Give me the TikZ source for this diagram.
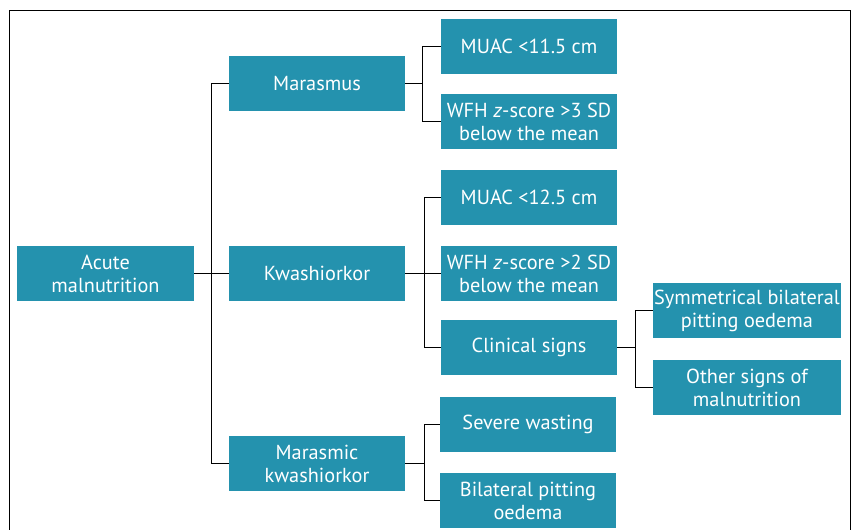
\documentclass[tikz,border=0pt]{standalone}
\usepackage{fontspec}
\setmainfont{PT Sans}
\definecolor{boxteal}{HTML}{2492AE}

\def\unit{1pt}

\begin{document}
\begin{tikzpicture}[x=\unit, y=-\unit,
    box/.style={fill=boxteal, text=white, align=center, inner sep=0pt,
      minimum width=176, minimum height=55, font=\fontsize{20.3}{23}\selectfont},
    widebox/.style={box, minimum width=188},
    link/.style={draw=black, line width=1.2pt}]
      \clip (0,0) rectangle (854,530);
      \useasboundingbox (0,0) rectangle (854,530);
      % outer frame, open at the bottom
      \draw[line width=0.8pt] (9,540) -- (9,10) -- (850,10) -- (850,540);

      \node[box, minimum width=177] (acute) at (105.5, 273.5) {Acute\\malnutrition};

      \node[box] (marasmus) at (317, 83.5) {Marasmus};
      \node[box] (kwash) at (317, 273.5) {Kwashiorkor};
      \node[box] (mkwash) at (317, 463.5) {Marasmic\\kwashiorkor};

      \node[box] (muacA) at (529, 46.5) {MUAC <11.5 cm};
      \node[box] (wfhA) at (529, 121.5) {WFH \textit{z}-score >3 SD\\below the mean};
      \node[box] (muacB) at (529, 197.5) {MUAC <12.5 cm};
      \node[box] (wfhB) at (529, 273.5) {WFH \textit{z}-score >2 SD\\below the mean};
      \node[box] (clinical) at (529, 347.5) {Clinical signs};
      \node[box] (wasting) at (528, 424.5) {Severe wasting};
      \node[box] (oedema) at (528, 500.5) {Bilateral pitting\\oedema};

      \node[widebox] (symm) at (747, 310.5) {Symmetrical bilateral\\pitting oedema};
      \node[widebox] (other) at (747, 387.5) {Other signs of\\malnutrition};

      % tree links
      \draw[link] (acute.east) -- ++(17,0) coordinate (busA);
      \draw[link] (busA) |- (marasmus.west);
      \draw[link] (busA) -- (kwash.west);
      \draw[link] (busA) |- (mkwash.west);

      \draw[link] (marasmus.east) -- ++(17,0) coordinate (busB);
      \draw[link] (busB) |- (muacA.west);
      \draw[link] (busB) |- (wfhA.west);

      \draw[link] (kwash.east) -- ++(19,0) coordinate (busC);
      \draw[link] (busC) |- (muacB.west);
      \draw[link] (busC) -- (wfhB.west);
      \draw[link] (busC) |- (clinical.west);

      \draw[link] (mkwash.east) -- ++(19,0) coordinate (busD);
      \draw[link] (busD) |- (wasting.west);
      \draw[link] (busD) |- (oedema.west);

      \draw[link] (clinical.east) -- ++(18,0) coordinate (busE);
      \draw[link] (busE) |- (symm.west);
      \draw[link] (busE) |- (other.west);
    \end{tikzpicture}
\end{document}
